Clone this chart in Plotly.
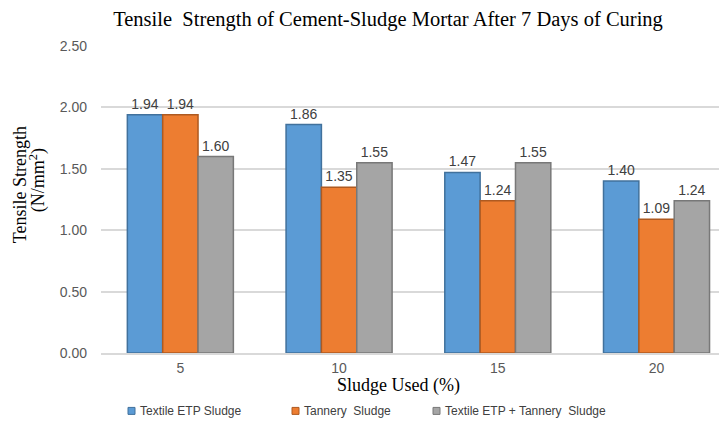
import plotly.graph_objects as go

categories = ["5", "10", "15", "20"]
textile_etp = [1.94, 1.86, 1.47, 1.40]
tannery = [1.94, 1.35, 1.24, 1.09]
combined = [1.60, 1.55, 1.55, 1.24]
series_names = ["Textile ETP Sludge", "Tannery  Sludge", "Textile ETP + Tannery  Sludge"]
y_ticks = [0, 0.5, 1.0, 1.5, 2.0, 2.5]

fills = ["#5B9BD5", "#ED7D31", "#A5A5A5"]
edges = ["#41719C", "#AE5A21", "#787878"]

# the page body adds an 8px margin, so the figure is drawn 8px smaller and offset
OFF = 8
W, H = 727 - OFF, 423 - OFF
L, R, T, B = 101, 727, 45.5, 353  # plot area in reference pixels
PW, PH = R - L, B - T


def px(x):
    return (x - L) / PW


def py(y):
    return (B - y) / PH


fig = go.Figure()
for name, vals, fc, ec in zip(series_names, [textile_etp, tannery, combined], fills, edges):
    fig.add_trace(go.Bar(
        x=categories, y=vals, name=name,
        marker=dict(color=fc, line=dict(color=ec, width=1.5)),
        text=[f"{v:.2f}" for v in vals], textposition="outside",
        textfont=dict(family="Liberation Sans", size=14, color="#404040"),
        cliponaxis=False, showlegend=False,
    ))

annotations = [
    dict(text="Tensile Strength", textangle=-90, xref="paper", yref="paper",
         x=px(20), y=py(185), xanchor="center", yanchor="middle", showarrow=False,
         font=dict(family="Liberation Serif", size=18, color="#000000")),
    dict(text="(N/mm<sup>2</sup>)", textangle=-90, xref="paper", yref="paper",
         x=px(38), y=py(180), xanchor="center", yanchor="middle", showarrow=False,
         font=dict(family="Liberation Serif", size=18, color="#000000")),
    dict(text="Sludge Used (%)", xref="paper", yref="paper",
         x=px(398), y=py(386), xanchor="center", yanchor="middle",
         showarrow=False, font=dict(family="Liberation Serif", size=18, color="#000000")),
]
shapes = []
legend_sq_x = [128, 292, 433]
for name, fc, ec, sx in zip(series_names, fills, edges, legend_sq_x):
    shapes.append(dict(type="rect", xref="paper", yref="paper",
                       x0=px(sx), x1=px(sx + 7), y0=py(414.5), y1=py(407.5),
                       fillcolor=fc, line=dict(color=ec, width=1)))
    annotations.append(dict(text=name, xref="paper", yref="paper",
                            x=px(sx + 10), y=py(411), xanchor="left", yanchor="middle",
                            showarrow=False,
                            font=dict(family="Liberation Sans", size=12, color="#404040")))

fig.update_layout(
    width=W, height=H,
    margin=dict(l=L - OFF, r=727 - R, t=T - OFF, b=423 - B, autoexpand=False),
    paper_bgcolor="white", plot_bgcolor="white",
    barmode="group", bargap=0.332, bargroupgap=0,
    title=dict(text="Tensile  Strength of Cement-Sludge Mortar After 7 Days of Curing",
               x=(388 - OFF) / W, xanchor="center", y=1 - (19 - OFF) / H, yanchor="middle",
               automargin=False,
               font=dict(family="Liberation Serif", size=20.5, color="#000000")),
    xaxis=dict(type="category", range=[-0.5, 3.444], showgrid=False, automargin=False,
               showline=True, linecolor="#d9d9d9", linewidth=1.5, ticks="",
               ticklabelstandoff=1,
               tickfont=dict(family="Liberation Sans", size=14, color="#595959")),
    yaxis=dict(range=[0, 2.5], tickvals=y_ticks, ticktext=[f"{v:.2f}" for v in y_ticks],
               showgrid=True, gridcolor="#d9d9d9", gridwidth=1.5, zeroline=False,
               showline=False, ticklabelstandoff=13, automargin=False,
               tickfont=dict(family="Liberation Sans", size=14, color="#595959")),
    showlegend=False,
    annotations=annotations,
    shapes=shapes,
)

fig.write_html("out.html")
